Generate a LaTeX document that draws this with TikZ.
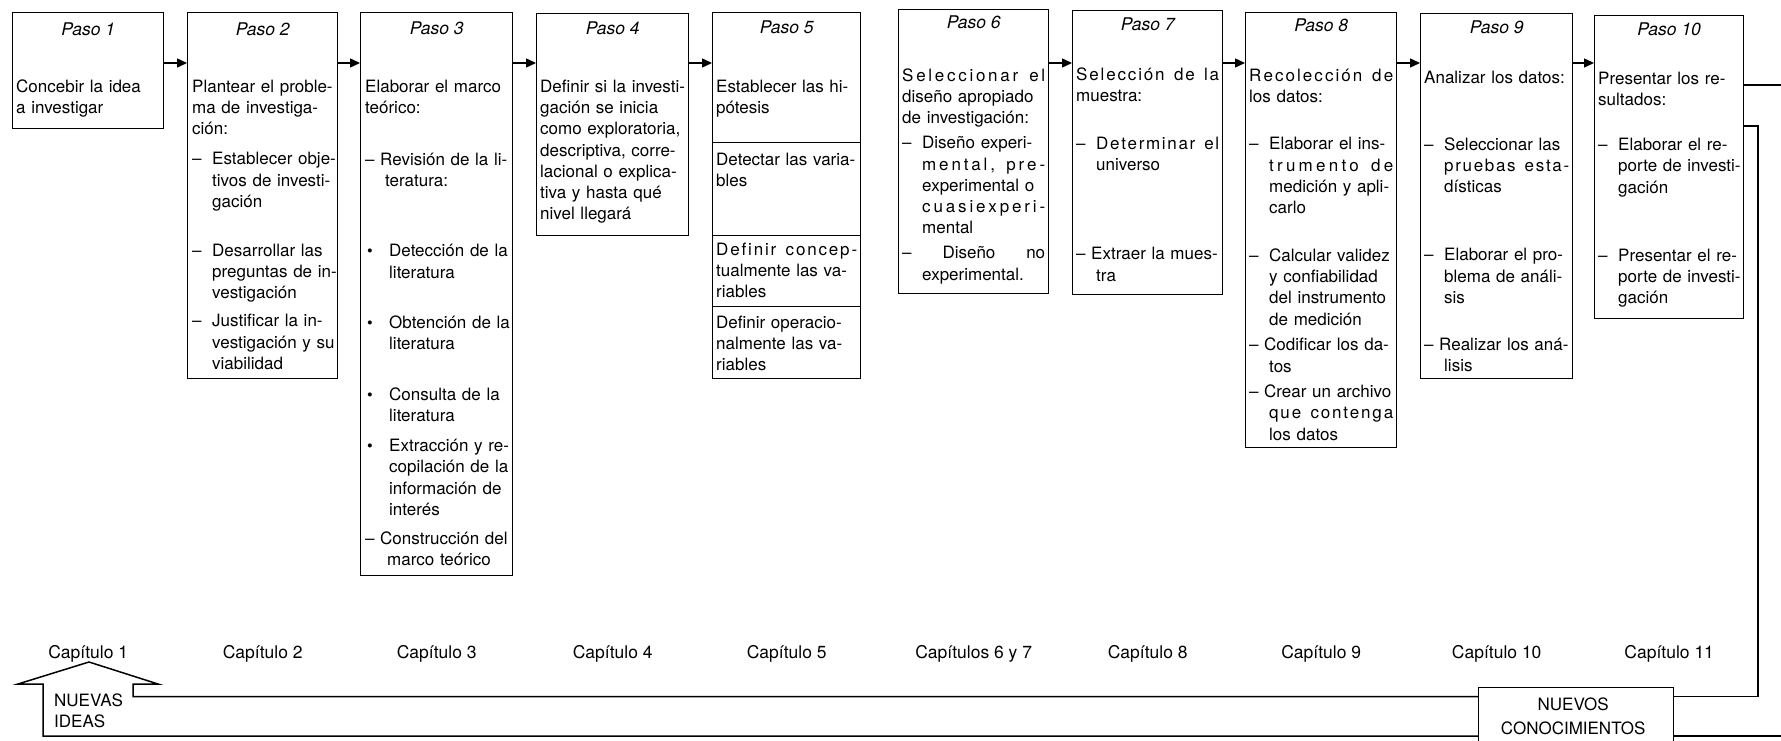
\documentclass[tikz,border=0pt]{standalone}
\usepackage{fontspec}
\setmainfont{TeX Gyre Heros}
\usepackage{graphicx}
\usetikzlibrary{arrows.meta,calc}
\makeatletter
\def\sp@end{\sp@end@marker}
\def\sp@loop#1{\ifx#1\sp@end\else#1\hfil\expandafter\sp@loop\fi}
\newcommand\jline[2][]{\hbox to\linewidth{\strut#1#2}\par}
\newcommand\lline[2][]{\hbox{\strut#1#2}\par}
\newcommand\sline[2][]{\hbox to\linewidth{\strut#1\sp@loop#2\sp@end\unskip}\par}
\makeatother
\newcommand\indt[1]{\hspace*{#1pt}}
\newcommand\dshA{\makebox[20pt][l]{–}}
\newcommand\dshB{\makebox[15pt][l]{–}}
\newcommand\bull{\makebox[24pt][l]{\hspace*{2pt}\raisebox{0pt}{\scalebox{0.95}{•}}}}
\begin{document}
\begin{tikzpicture}[x=1pt,y=-1pt,
  stepbox/.style={draw, line width=1.4pt, anchor=north west, inner sep=0pt},
  ttl/.style={font=\fontsize{17.5}{21}\selectfont\itshape, inner sep=0pt},
  body/.style={anchor=north west, inner sep=0pt, text width=#1pt, font=\fontsize{17}{21.3}\selectfont},
  chap/.style={anchor=base, inner sep=0pt, font=\fontsize{17.5}{21}\selectfont},
  conn/.style={line width=1.4pt, -{Triangle[length=10pt,width=9pt]}},
  line/.style={line width=1.5pt}]
\useasboundingbox (0,0) rectangle (1781,741);
\clip (0,0) rectangle (1781,741);
% boxes
\node[stepbox, minimum width=151pt, minimum height=116pt] (p1) at (12,12) {};
\node[stepbox, minimum width=150pt, minimum height=366pt] (p2) at (187,12) {};
\node[stepbox, minimum width=152pt, minimum height=563pt] (p3) at (360,12) {};
\node[stepbox, minimum width=152pt, minimum height=222pt] (p4) at (536,13) {};
\node[stepbox, minimum width=148pt, minimum height=130pt] (p5a) at (712,12) {};
\node[stepbox, minimum width=148pt, minimum height=93pt] (p5b) at (712,142) {};
\node[stepbox, minimum width=148pt, minimum height=71pt] (p5c) at (712,235) {};
\node[stepbox, minimum width=148pt, minimum height=72pt] (p5d) at (712,306) {};
\node[stepbox, minimum width=150pt, minimum height=284pt] (p6) at (898,9) {};
\node[stepbox, minimum width=150pt, minimum height=284pt] (p7) at (1072,10) {};
\node[stepbox, minimum width=151pt, minimum height=435pt] (p8) at (1245,12) {};
\node[stepbox, minimum width=152pt, minimum height=365pt] (p9) at (1420,13) {};
\node[stepbox, minimum width=149pt, minimum height=303pt] (p10) at (1594,15) {};
\node[stepbox, minimum width=195pt, minimum height=70pt] (nc) at (1478,687) {};
% titles
\node[ttl] (t1) at ($(p1.north)+(0,17)$) {Paso 1};
\node[ttl] (t2) at ($(p2.north)+(0,17)$) {Paso 2};
\node[ttl] (t3) at ($(p3.north)+(0,16)$) {Paso 3};
\node[ttl] (t4) at ($(p4.north)+(0,15)$) {Paso 4};
\node[ttl] (t5) at ($(p5a.north)+(0,15)$) {Paso 5};
\node[ttl] (t6) at ($(p6.north)+(0,13)$) {Paso 6};
\node[ttl] (t7) at ($(p7.north)+(0,14)$) {Paso 7};
\node[ttl] (t8) at ($(p8.north)+(0,13)$) {Paso 8};
\node[ttl] (t9) at ($(p9.north)+(0,14)$) {Paso 9};
\node[ttl] (t10) at ($(p10.north)+(0,14)$) {Paso 10};
% bodies
\node[body=140] (b1) at (16,77) {\lline{Concebir la idea}\lline{a investigar}};
\node[body=141] (b2) at (192,77) {%
\jline{Plantear el proble-}
\jline{ma de investiga-}
\lline{ción:}
\vskip8.7pt
\jline[\dshA]{Establecer obje-}
\jline[\indt{20}]{tivos de investi-}
\lline[\indt{20}]{gación}
\vskip27.7pt
\jline[\dshA]{Desarrollar las}
\jline[\indt{20}]{preguntas de in-}
\lline[\indt{20}]{vestigación}
\vskip6.7pt
\jline[\dshA]{Justificar la in-}
\jline[\indt{20}]{vestigación y su}
\lline[\indt{20}]{viabilidad}};
\node[body=144] (b3) at (365,77) {%
\jline{Elaborar el marco}
\lline{teórico:}
\vskip30.7pt
\jline[\dshB]{Revisión de la li-}
\lline[\indt{20}]{teratura:}
\vskip48.7pt
\jline[\bull]{Detección de la}
\lline[\indt{24}]{literatura}
\vskip28.7pt
\jline[\bull]{Obtención de la}
\lline[\indt{24}]{literatura}
\vskip29.7pt
\jline[\bull]{Consulta de la}
\lline[\indt{24}]{literatura}
\vskip8.7pt
\jline[\bull]{Extracción y re-}
\jline[\indt{24}]{copilación de la}
\jline[\indt{24}]{información de}
\lline[\indt{24}]{interés}
\vskip7.7pt
\jline[\dshB]{Construcción del}
\lline[\indt{22}]{marco teórico}};
\node[body=145] (b4) at (540,77) {%
\jline{Definir si la investi-}
\jline{gación se inicia}
\jline{como exploratoria,}
\jline{descriptiva, corre-}
\jline{lacional o explica-}
\jline{tiva y hasta qué}
\lline{nivel llegará}};
\node[body=141] (b5a) at (716,77) {\jline{Establecer las hi-}\lline{pótesis}};
\node[body=141] (b5b) at (716,150) {\jline{Detectar las varia-}\lline{bles}};
\node[body=141] (b5c) at (716,240) {\sline{Definir~concep-}\jline{tualmente las va-}\lline{riables}};
\node[body=141] (b5d) at (716,313) {\jline{Definir operacio-}\jline{nalmente las va-}\lline{riables}};
\node[body=143] (b6) at (902,66) {%
\sline{Seleccionar~el}
\jline{diseño apropiado}
\lline{de investigación:}
\vskip3.7pt
\jline[\dshA]{Diseño experi-}
\sline[\indt{20}]{mental,~pre-}
\jline[\indt{20}]{experimental o}
\sline[\indt{20}]{cuasiexperi-}
\lline[\indt{20}]{mental}
\vskip3.7pt
\jline{–\hfil Diseño\hfil no}
\lline[\indt{20}]{experimental.}};
\node[body=143] (b7) at (1076,65) {%
\sline{Selección~de~la}
\lline{muestra:}
\vskip26.7pt
\sline[\dshA]{Determinar~el}
\lline[\indt{20}]{universo}
\vskip67.7pt
\jline[\dshB]{Extraer la mues-}
\lline[\indt{20}]{tra}};
\node[body=144] (b8) at (1249,66) {%
\sline{Recolección~de}
\lline{los datos:}
\vskip26.2pt
\jline[\dshA]{Elaborar el ins-}
\sline[\indt{20}]{trumento~de}
\jline[\indt{20}]{medición y apli-}
\lline[\indt{20}]{carlo}
\vskip26.2pt
\jline[\dshA]{Calcular validez}
\jline[\indt{20}]{y confiabilidad}
\jline[\indt{20}]{del instrumento}
\lline[\indt{20}]{de medición}
\vskip4.2pt
\jline[\dshB]{Codificar los da-}
\lline[\indt{20}]{tos}
\vskip4.2pt
\jline[\dshB]{Crear un archivo}
\sline[\indt{20}]{que~contenga}
\lline[\indt{20}]{los datos}};
\node[body=145] (b9) at (1424,68) {%
\lline{Analizar los datos:}
\vskip45.7pt
\jline[\dshA]{Seleccionar las}
\sline[\indt{20}]{pruebas~esta-}
\lline[\indt{20}]{dísticas}
\vskip46.7pt
\jline[\dshA]{Elaborar el pro-}
\jline[\indt{20}]{blema de análi-}
\lline[\indt{20}]{sis}
\vskip25.7pt
\jline[\dshB]{Realizar los aná-}
\lline[\indt{20}]{lisis}};
\node[body=142] (b10) at (1598,69) {%
\jline{Presentar los re-}
\lline{sultados:}
\vskip23.7pt
\jline[\dshA]{Elaborar el re-}
\jline[\indt{20}]{porte de investi-}
\lline[\indt{20}]{gación}
\vskip46.7pt
\jline[\dshA]{Presentar el re-}
\jline[\indt{20}]{porte de investi-}
\lline[\indt{20}]{gación}};
% arrows between steps
\coordinate (ay) at (0,63);
\draw[conn] (p1.east |- ay) -- (p2.west |- ay);
\draw[conn] (p2.east |- ay) -- (p3.west |- ay);
\draw[conn] (p3.east |- ay) -- (p4.west |- ay);
\draw[conn] (p4.east |- ay) -- (p5a.west |- ay);
\draw[conn] (p6.east |- ay) -- (p7.west |- ay);
\draw[conn] (p7.east |- ay) -- (p8.west |- ay);
\draw[conn] (p8.east |- ay) -- (p9.west |- ay);
\draw[conn] (p9.east |- ay) -- (p10.west |- ay);
% chapter labels
\coordinate (cy) at (0,658);
\node[chap] (c1) at (p1.south |- cy) {Capítulo 1};
\node[chap] (c2) at (p2.south |- cy) {Capítulo 2};
\node[chap] (c3) at (p3.south |- cy) {Capítulo 3};
\node[chap] (c4) at (p4.south |- cy) {Capítulo 4};
\node[chap] (c5) at (p5d.south |- cy) {Capítulo 5};
\node[chap] (c6) at (p6.south |- cy) {Capítulos 6 y 7};
\node[chap] (c7) at (p7.south |- cy) {Capítulo 8};
\node[chap] (c8) at (p8.south |- cy) {Capítulo 9};
\node[chap] (c9) at (p9.south |- cy) {Capítulo 10};
\node[chap] (c10) at (p10.south |- cy) {Capítulo 11};
% feedback loop
\coordinate (yA) at (0,696.5);
\coordinate (yB) at (0,736);
\coordinate (y85) at (0,85);
\coordinate (y126) at (0,126);
\coordinate (rA) at (1781,85);
\coordinate (rB) at (1758,126);
\coordinate (rC) at (1758,696.5);
\coordinate (rD) at (1781,736);
\draw[line] (p10.east |- y85) -- (rA);
\draw[line] (p10.east |- y126) -- (rB) -- (rC) -- (nc.east |- yA);
\draw[line] (nc.east |- yB) -- (rD);
\draw[line, line join=miter] (nc.west |- yA) -- (133,696.5) -- (133,684) -- (158,684) -- (89,662) -- (18,684) -- (43,684) -- (43,736) -- (nc.west |- yB);
\node[anchor=north west, inner sep=0pt, align=left, font=\fontsize{17}{20.5}\selectfont] (ni) at (54,694) {NUEVAS\\IDEAS};
\node[anchor=north, inner sep=0pt, align=center, font=\fontsize{17}{23.5}\selectfont] (nct) at ($(nc.north)+(-3,11)$) {NUEVOS\\CONOCIMIENTOS};
\end{tikzpicture}
\end{document}
